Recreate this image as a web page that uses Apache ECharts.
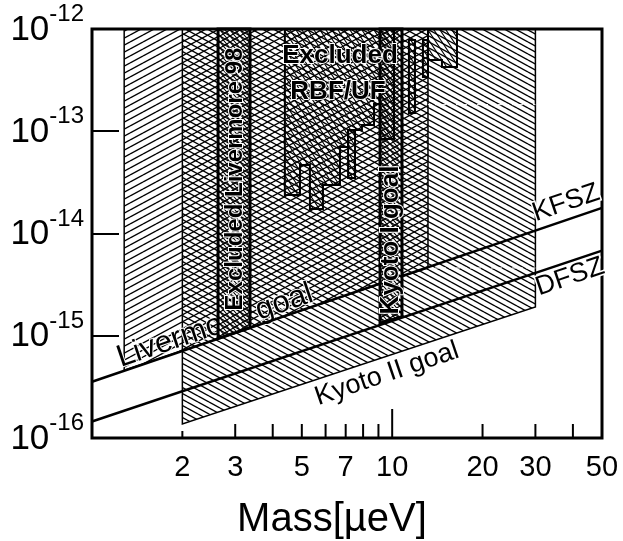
<!DOCTYPE html>
<html>
<head>
<meta charset="utf-8">
<script src="https://cdn.jsdelivr.net/npm/echarts@6/dist/echarts.min.js"></script>
<style>
html, body { margin: 0; padding: 0; background: #fff; }
#echart { width: 623px; height: 541px; }
</style>
</head>
<body>
<div id="echart"></div>
<script>
var FONT = '"Liberation Sans", Arial, Helvetica, sans-serif';

// axis ranges and ticks (mass in ueV, coupling in GeV^-1)
var massRange = [1, 50];
var couplingRange = [1e-16, 1e-12];
var massTicks = [2, 3, 4, 5, 6, 7, 8, 9, 10, 20, 30, 40, 50];
var massLabels = [2, 3, 5, 7, 10, 20, 30, 50];

// model lines, [mass, coupling]
var ksvzLine = [[1, 3.55e-16], [50, 1.78e-14]];
var dfszLine = [[1, 1.45e-16], [50, 6.8e-15]];

// regions
var livermoreGoal = [[1.28, 1e-12], [1.28, 4.6e-16], [13.16, 4.6e-15], [13.16, 1e-12]];
var kyoto2Goal = [[2, 1e-12], [2, 1.37e-16], [30, 1.91e-15], [30, 1e-12]];
var livermore98 = [[2.63, 1e-12], [2.63, 9.4e-16], [3.36, 1.2e-15], [3.36, 1e-12]];
var kyoto1Goal = [[9.11, 1e-12], [9.11, 1.33e-15], [10.78, 1.54e-15], [10.78, 1e-12]];
var rbfMain = [
    [4.39, 1e-12], [4.39, 2.38e-14], [4.93, 2.38e-14], [4.93, 4.68e-14],
    [5.32, 4.68e-14], [5.32, 1.74e-14], [5.88, 1.74e-14], [5.88, 2.98e-14],
    [6.70, 2.98e-14], [6.70, 7.0e-14], [7.13, 7.0e-14], [7.13, 1.03e-13],
    [7.93, 1.03e-13], [7.93, 1.15e-13], [8.70, 1.15e-13], [8.70, 1.85e-13],
    [9.11, 1.85e-13], [9.11, 8.4e-14], [10.14, 8.4e-14], [10.14, 1e-12]
];
var rbfBar1 = [[7.13, 1.03e-13], [7.13, 3.49e-14], [7.52, 3.49e-14], [7.52, 1.03e-13]];
var rbfBar2 = [[11.37, 7.81e-13], [11.37, 1.51e-13], [11.91, 1.51e-13], [11.91, 7.81e-13]];
var rbfBar3 = [[12.66, 7.81e-13], [12.66, 3.4e-13], [13.16, 3.4e-13], [13.16, 7.81e-13]];
var rbfRight = [
    [13.16, 1e-12], [13.16, 4.98e-13], [14.65, 4.98e-13], [14.65, 4.25e-13],
    [16.44, 4.25e-13], [16.44, 1e-12]
];
var dashLow = [[13.16, 4.6e-15], [30, 4.6e-15]];
var dashHigh = [[13.16, 1.82e-13], [30, 1.82e-13]];

// hatch tiles
function hatch(w, h, segs, bg, lw) {
    var c = document.createElement('canvas');
    c.width = w; c.height = h;
    var ctx = c.getContext('2d');
    if (bg) { ctx.fillStyle = bg; ctx.fillRect(0, 0, w, h); }
    ctx.strokeStyle = '#000';
    ctx.lineWidth = lw || 1;
    segs.forEach(function (s) {
        for (var i = -1; i <= 1; i++) {
            for (var j = -1; j <= 1; j++) {
                ctx.beginPath();
                ctx.moveTo(s[0] + i * w, s[1] + j * h);
                ctx.lineTo(s[2] + i * w, s[3] + j * h);
                ctx.stroke();
            }
        }
    });
    return { image: c, repeat: 'repeat' };
}
var patSlash = hatch(13, 7, [[0, 7, 13, 0]], null, 1.35);
var patBack = hatch(11, 6, [[0, 0, 11, 6]], null, 1.35);
var patDense = hatch(10, 6, [[0, 6, 10, 0], [0, 0, 10, 6], [0, 0, 5, 6], [5, 0, 10, 6]], '#fff', 1.1);
var patRbf = hatch(6, 9, [[0, 0, 6, 9]], null, 1.1);

function region(pts, fill, stroke, lw, z) {
    return {
        type: 'custom',
        coordinateSystem: 'cartesian2d',
        silent: true,
        z: z,
        encode: { x: 0, y: 1 },
        data: pts,
        renderItem: function (params, api) {
            if (params.dataIndex !== 0) return;
            return {
                type: 'polygon',
                shape: { points: pts.map(function (p) { return api.coord(p); }) },
                style: { fill: fill, stroke: stroke, lineWidth: lw }
            };
        }
    };
}

function line(pts, color, width, dash, z) {
    return {
        type: 'line', data: pts, symbol: 'none', silent: true, z: z,
        lineStyle: { color: color, width: width, type: dash ? [4, 3] : 'solid' }
    };
}

var myChart = echarts.init(document.getElementById('echart'));

var option = {
    animation: false,
    grid: { left: 92, right: 21, top: 29, bottom: 103 },
    xAxis: {
        type: 'log', logBase: 10, min: massRange[0], max: massRange[1],
        axisLine: { show: false }, axisTick: { show: false },
        axisLabel: { show: false }, splitLine: { show: false }
    },
    yAxis: {
        type: 'log', logBase: 10, min: couplingRange[0], max: couplingRange[1],
        axisLine: { show: false },
        axisTick: { show: true, inside: true, length: 27, lineStyle: { color: '#000', width: 2 } },
        splitLine: { show: false },
        axisLabel: {
            margin: 8,
            padding: [0, 0, 8, 0],
            formatter: function (v) {
                return '{b|10}{s|' + Math.round(Math.log10(v)) + '}';
            },
            rich: {
                b: { fontSize: 35, fontFamily: FONT, color: '#000', padding: [10, 0, 0, 0], verticalAlign: 'bottom' },
                s: { fontSize: 24, fontFamily: FONT, color: '#000', verticalAlign: 'top' }
            }
        }
    },
    graphic: [
        { type: 'text', x: 332, y: 520, z: 40, style: { text: 'Mass[µeV]', fontSize: 40, fontFamily: FONT, fill: '#000', align: 'center', verticalAlign: 'middle' } },
        { type: 'text', x: 215, y: 326, z: 4, rotation: 0.328, style: { text: 'Livermore goal', fontSize: 31, fontFamily: FONT, fill: '#000', align: 'center', verticalAlign: 'middle', stroke: '#fff', lineWidth: 2 } },
        { type: 'text', x: 387, y: 374, z: 40, rotation: 0.328, style: { text: 'Kyoto II goal', fontSize: 27, fontFamily: FONT, fill: '#000', align: 'center', verticalAlign: 'middle' } },
        { type: 'text', x: 566, y: 203, z: 40, rotation: 0.328, style: { text: 'KFSZ', fontSize: 27, fontFamily: FONT, fill: '#000', align: 'center', verticalAlign: 'middle', stroke: '#fff', lineWidth: 3 } },
        { type: 'text', x: 570, y: 277, z: 40, rotation: 0.328, style: { text: 'DFSZ', fontSize: 27, fontFamily: FONT, fill: '#000', align: 'center', verticalAlign: 'middle', stroke: '#fff', lineWidth: 3 } },
        { type: 'text', x: 235, y: 179, z: 40, rotation: Math.PI / 2, style: { text: 'Excluded Livermore 98', fontSize: 24, fontWeight: 'bold', fontFamily: FONT, fill: '#000', align: 'center', verticalAlign: 'middle', stroke: '#fff', lineWidth: 2 } },
        { type: 'text', x: 391, y: 240, z: 40, rotation: Math.PI / 2, style: { text: 'Kyoto I goal', fontSize: 26, fontWeight: 'bold', fontFamily: FONT, fill: '#000', align: 'center', verticalAlign: 'middle', stroke: '#fff', lineWidth: 2 } },
        { type: 'text', x: 340, y: 56, z: 40, style: { text: 'Excluded', fontSize: 26, fontWeight: 'bold', fontFamily: FONT, fill: '#000', align: 'center', verticalAlign: 'middle', stroke: '#fff', lineWidth: 2 } },
        { type: 'text', x: 338, y: 92, z: 40, style: { text: 'RBF/UF', fontSize: 26, fontWeight: 'bold', fontFamily: FONT, fill: '#000', align: 'center', verticalAlign: 'middle', stroke: '#fff', lineWidth: 2 } }
    ],
    series: [
        region(livermoreGoal, patSlash, '#000', 1.5, 2),
        region(kyoto2Goal, patBack, '#000', 1.5, 3),
        line(dashLow, '#fff', 1, true, 5),
        line(dashHigh, '#fff', 1, true, 5),
        line(ksvzLine, '#000', 2.5, false, 6),
        line(dfszLine, '#000', 2.5, false, 6),
        region(livermore98, patDense, '#000', 3, 8),
        region(kyoto1Goal, patDense, '#000', 3, 8),
        region(rbfMain, patRbf, '#000', 2, 9),
        region(rbfBar1, patRbf, '#000', 2, 9),
        region(rbfBar2, patRbf, '#000', 2, 9),
        region(rbfBar3, patRbf, '#000', 2, 9),
        region(rbfRight, patRbf, '#000', 2, 9),
        {
            // frame
            type: 'custom', coordinateSystem: 'cartesian2d', z: 30, silent: true, clip: false,
            data: [[massRange[0], couplingRange[1]]],
            renderItem: function (params, api) {
                var cs = params.coordSys;
                return { type: 'rect', shape: { x: cs.x, y: cs.y, width: cs.width, height: cs.height },
                    style: { fill: 'none', stroke: '#000', lineWidth: 3 } };
            }
        },
        {
            // x ticks
            type: 'custom', coordinateSystem: 'cartesian2d', z: 31, silent: true, clip: false,
            data: massTicks.map(function (v) { return [v, couplingRange[0]]; }),
            renderItem: function (params, api) {
                var v = api.value(0);
                var p = api.coord([v, api.value(1)]);
                var len = v === 10 ? 29 : (v === 2 ? 7 : 14);
                return { type: 'line', shape: { x1: p[0], y1: p[1], x2: p[0], y2: p[1] - len },
                    style: { stroke: '#000', lineWidth: 2 } };
            }
        },
        {
            // x labels
            type: 'custom', coordinateSystem: 'cartesian2d', z: 31, silent: true, clip: false,
            data: massLabels.map(function (v) { return [v, couplingRange[0]]; }),
            renderItem: function (params, api) {
                var v = api.value(0);
                var p = api.coord([v, api.value(1)]);
                return { type: 'text', x: p[0], y: p[1] + 30,
                    style: { text: String(v), fontSize: 29, fontFamily: FONT, fill: '#000', align: 'center', verticalAlign: 'middle' } };
            }
        }
    ]
};

myChart.setOption(option);
window.onresize = myChart.resize;
</script>
</body>
</html>
